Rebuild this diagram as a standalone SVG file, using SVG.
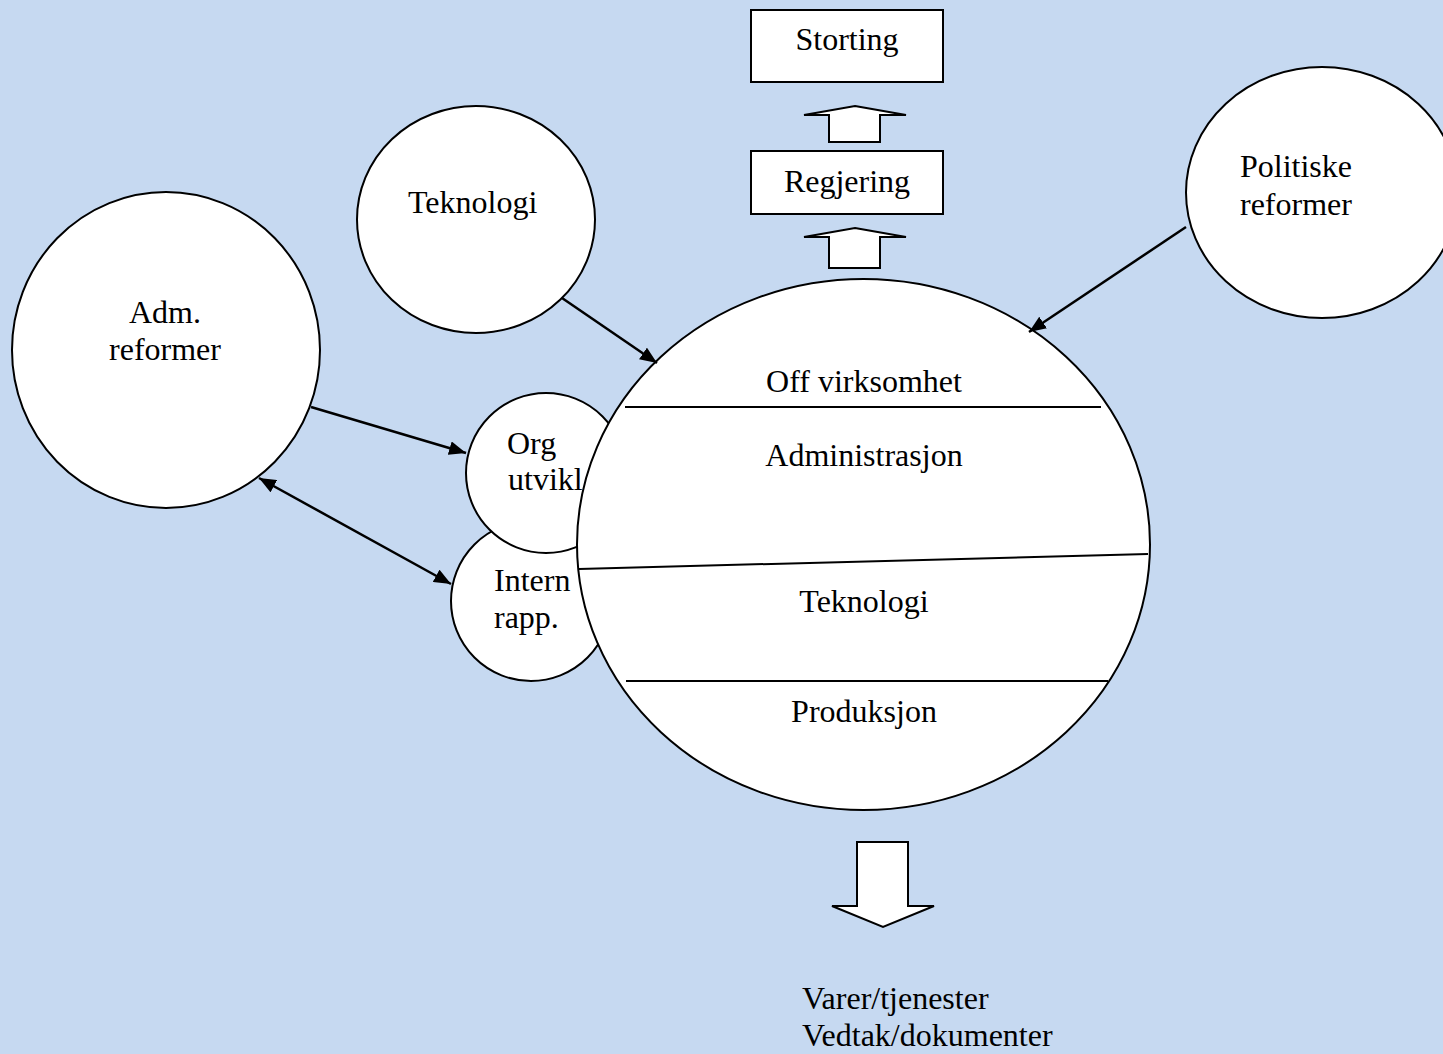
<svg xmlns="http://www.w3.org/2000/svg" width="1443" height="1054" viewBox="0 0 1443 1054">
<style>
.shape{fill:#ffffff;stroke:#000000;stroke-width:2}
.div{stroke:#000000;stroke-width:2;fill:none}
.conn{stroke:#000000;stroke-width:2.5;fill:none}
text{font-family:"Liberation Serif","Times New Roman",serif;font-size:32px;fill:#000000}
.c{text-anchor:middle}
</style>
<defs>
<marker id="ah" markerUnits="userSpaceOnUse" markerWidth="18" markerHeight="14" refX="17" refY="7" orient="auto-start-reverse">
<path d="M0,0 L17,7 L0,14 z" fill="#000000"/>
</marker>
</defs>
<rect x="0" y="0" width="1443" height="1054" fill="#C6D9F1"/>

<g id="storting">
<rect class="shape" x="751" y="10" width="192" height="72"/>
<text class="c" x="847" y="50">Storting</text>
</g>
<g id="arrow-up-1">
<polygon class="shape" points="855,106 906,115 880,115 880,142 829,142 829,115 804,115"/>
</g>
<g id="regjering">
<rect class="shape" x="751" y="151" width="192" height="63"/>
<text class="c" x="847" y="192">Regjering</text>
</g>
<g id="arrow-up-2">
<polygon class="shape" points="855,228 906,237 880,237 880,268 829,268 829,237 804,237"/>
</g>

<g id="teknologi-ext">
<ellipse class="shape" cx="476" cy="219.5" rx="119" ry="113.5"/>
<text x="408" y="213">Teknologi</text>
</g>

<g id="politiske">
<ellipse class="shape" cx="1322" cy="192.5" rx="136" ry="125.5"/>
<text x="1240" y="177">Politiske</text>
<text x="1240" y="215">reformer</text>
</g>

<g id="adm">
<ellipse class="shape" cx="166" cy="350" rx="154" ry="158"/>
<text class="c" x="165" y="323">Adm.</text>
<text class="c" x="165" y="360">reformer</text>
</g>

<g id="intern">
<ellipse class="shape" cx="531" cy="601" rx="80" ry="80"/>
</g>
<g id="org">
<ellipse class="shape" cx="546" cy="473" rx="80" ry="80"/>
</g>

<g id="virksomhet">
<ellipse class="shape" cx="863.5" cy="544.5" rx="286.5" ry="265.5"/>
<line class="div" x1="625" y1="407" x2="1101" y2="407"/>
<line class="div" x1="579" y1="569" x2="1148" y2="554"/>
<line class="div" x1="626" y1="681" x2="1108" y2="681"/>
<text class="c" x="864" y="392">Off virksomhet</text>
<text class="c" x="864" y="466">Administrasjon</text>
<text class="c" x="864" y="612">Teknologi</text>
<text class="c" x="864" y="722">Produksjon</text>
</g>

<g id="org-label">
<text x="507" y="454">Org</text>
<text x="508" y="490">utvikl</text>
</g>
<g id="intern-label">
<text x="494" y="591">Intern</text>
<text x="494" y="628">rapp.</text>
</g>

<g id="arrow-down">
<polygon class="shape" points="857,842 908,842 908,906 934,906 883,927 832,906 857,906"/>
</g>

<g id="output">
<text x="802" y="1009">Varer/tjenester</text>
<text x="802" y="1046">Vedtak/dokumenter</text>
</g>

<g id="connectors">
<line class="conn" x1="562" y1="298" x2="657" y2="363" marker-end="url(#ah)"/>
<line class="conn" x1="1186" y1="227" x2="1029" y2="332" marker-end="url(#ah)"/>
<line class="conn" x1="311" y1="407" x2="466" y2="453" marker-end="url(#ah)"/>
<line class="conn" x1="259" y1="478" x2="451" y2="584" marker-start="url(#ah)" marker-end="url(#ah)"/>
</g>
</svg>
